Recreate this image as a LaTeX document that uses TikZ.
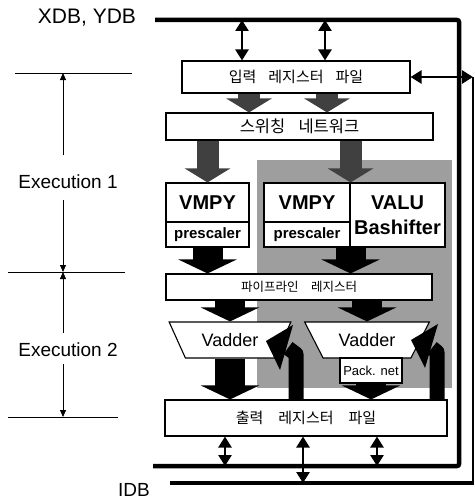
\documentclass[tikz,border=0pt]{standalone}
\usepackage{fontspec}
\setmainfont{Liberation Sans}
\newfontfamily\kr{Noto Sans CJK KR}
\usetikzlibrary{arrows.meta,shapes.geometric}

\begin{document}
\begin{tikzpicture}[x=1pt,y=-1pt,
  reg/.style={rectangle, draw, line width=1.1pt, fill=white, inner sep=0pt, font=\kr\fontsize{15}{15}\selectfont},
  unit/.style={rectangle, draw, line width=1.1pt, fill=white, inner sep=0pt, font=\bfseries\fontsize{20}{25}\selectfont, align=center},
  sub/.style={rectangle, draw, line width=1.1pt, fill=white, inner sep=0pt, font=\bfseries\fontsize{15}{15}\selectfont},
  adder/.style={trapezium, shape border rotate=180, trapezium stretches=true, draw, line width=1.1pt, fill=white, inner sep=0pt, font=\fontsize{18}{18}\selectfont},
  bus/.style={line width=4.5pt},
  dbl/.style={line width=2.6pt, {Triangle[width=13pt,length=11pt]}-{Triangle[width=13pt,length=11pt]}},
  feed/.style={line width=22pt, draw=black!75, -{Triangle[width=45pt,length=14pt]}},
  flow/.style={line width=30pt, -{Triangle[width=58pt,length=14pt]}},
  back/.style={line width=15pt, line join=round},
  lbl/.style={font=\fontsize{19}{19}\selectfont},
  exline/.style={line width=0.8pt},
  exarr/.style={line width=0.8pt, -{Triangle[width=6pt,length=7pt]}}
]
\useasboundingbox (0,0) rectangle (474,503);
\fill[black!38] (257,160) rectangle (452,388);

\coordinate (busTL) at (155,20);
\coordinate (busTR) at (459,20);
\coordinate (busBR) at (459,466);
\coordinate (busBL) at (153,466);
\coordinate (idbL) at (170,483);
\coordinate (idbR) at (474,483);
\coordinate (idbT) at (473,77);
\draw[bus, rounded corners=2pt] (busTL) -- (busTR) -- (busBR) -- (busBL);
\draw[bus] (idbL) -- (idbR);
\draw[line width=1.5pt] (idbR -| idbT) -- (idbT);

\node[lbl, font=\fontsize{21}{21}\selectfont] (xdb) at (87,18) {XDB, YDB};
\node[lbl] (idb) at (134,490) {IDB};

\node[reg, minimum width=228pt, minimum height=32pt] (inreg) at (296,77) {입력\hspace{0.8em}레지스터\hspace{0.8em}파일};
\node[reg, minimum width=267pt, minimum height=27pt, font=\kr\fontsize{16.5}{16.5}\selectfont] (swnet) at (299.5,126.5) {스위칭\hspace{0.8em}네트워크};
\node[unit, minimum width=83pt, minimum height=39pt] (vmpyA) at (207.5,202.5) {VMPY};
\node[sub, minimum width=83pt, minimum height=25pt] (presA) at (207.5,234.5) {prescaler};
\node[unit, minimum width=86pt, minimum height=39pt] (vmpyB) at (307,202.5) {VMPY};
\node[sub, minimum width=86pt, minimum height=25pt] (presB) at (307,234.5) {prescaler};
\node[unit, minimum width=95pt, minimum height=64pt] (valu) at (397.5,215) {VALU\\Bashifter};
\node[reg, minimum width=266pt, minimum height=26pt, font=\kr\fontsize{12.5}{12.5}\selectfont] (pipe) at (299,287) {파이프라인\hspace{1em}레지스터};
\node[adder, minimum width=122pt, minimum height=36pt, trapezium angle=52] (vadA) at (230,340) {Vadder};
\node[adder, minimum width=125pt, minimum height=36pt, trapezium angle=48] (vadB) at (367,340) {Vadder};
\node[reg, minimum width=62pt, minimum height=25pt, font=\fontsize{13}{13}\selectfont] (pack) at (371,370.5) {Pack. net};
\node[reg, minimum width=282pt, minimum height=36pt] (outreg) at (306,418) {출력\hspace{1em}레지스터\hspace{1em}파일};

\draw[dbl] ([xshift=-54pt]inreg.north) -- ([xshift=-54pt]inreg.north |- busTL);
\draw[dbl] ([xshift=29pt]inreg.north) -- ([xshift=29pt]inreg.north |- busTL);
\draw[dbl] (inreg.east) -- (inreg.east -| idbT);

\draw[feed] ([xshift=-47pt]inreg.south) -- ([xshift=-47pt]inreg.south |- swnet.north);
\draw[feed] ([xshift=31pt]inreg.south) -- ([xshift=31pt]inreg.south |- swnet.north);
\draw[feed] (swnet.south -| vmpyA) -- (vmpyA.north);
\draw[feed] (swnet.south -| vmpyB.north east) -- (vmpyB.north east);
\draw[flow] (presA.south) -- (presA.south |- pipe.north);
\draw[flow] (presB.south east) -- (presB.south east |- pipe.north);
\draw[flow] (pipe.south -| vadA.north) -- (vadA.north);
\draw[flow] (pipe.south -| vadB.north) -- (vadB.north);
\draw[flow] (vadA.south) -- (vadA.south |- outreg.north);
\draw[flow] (pack.south) -- (pack.south |- outreg.north);

\coordinate (bendA) at (296,354);
\coordinate (neckA) at (288,348);
\coordinate (tipA) at (266,341);
\coordinate (wingA1) at (293,325);
\coordinate (wingA2) at (280,370);
\coordinate (bendB) at (437,352);
\coordinate (neckB) at (432,348);
\coordinate (tipB) at (411,340);
\coordinate (wingB1) at (438,324);
\coordinate (wingB2) at (425,368);
\draw[back] (outreg.north -| bendA) -- (bendA) -- (neckA);
\fill (tipA) -- (wingA1) -- (wingA2) -- cycle;
\draw[back] (outreg.north -| bendB) -- (bendB) -- (neckB);
\fill (tipB) -- (wingB1) -- (wingB2) -- cycle;

\draw[dbl] ([xshift=-81pt]outreg.south) -- ([xshift=-81pt]outreg.south |- busBL);
\draw[dbl] ([xshift=-3pt]outreg.south) -- ([xshift=-3pt]outreg.south |- idbL);
\draw[dbl] ([xshift=71pt]outreg.south) -- ([xshift=71pt]outreg.south |- busBL);

\node[lbl] (ex1) at (68,182) {Execution 1};
\node[lbl] (ex2) at (68,350) {Execution 2};
\coordinate (lvl0) at (63,73);
\coordinate (lvl1) at (63,272);
\coordinate (lvl2) at (63,417);
\coordinate (a1) at (63,155);
\coordinate (a2) at (63,200);
\coordinate (a3) at (63,333);
\coordinate (a4) at (63,364);
\draw[exline] (15,73) -- (132,73);
\draw[exline] (8,272) -- (125,272);
\draw[exline] (8,417) -- (118,417);
\draw[exarr] (a1) -- (lvl0);
\draw[exarr] (a2) -- (lvl1);
\draw[exarr] (a3) -- (lvl1);
\draw[exarr] (a4) -- (lvl2);
\end{tikzpicture}
\end{document}
